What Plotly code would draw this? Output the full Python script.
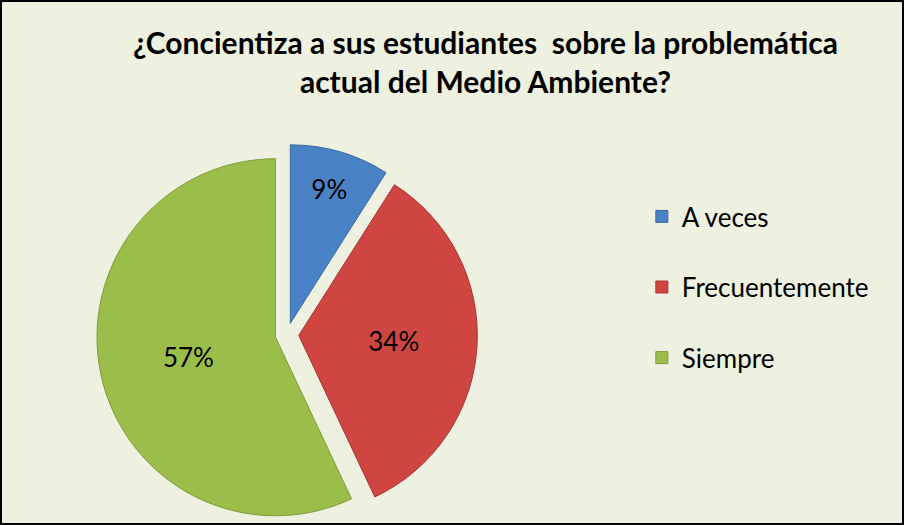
import plotly.graph_objects as go

TITLE = "¿Concientiza a sus estudiantes  sobre la problemática<br>actual del Medio Ambiente?"
LABELS = ["A veces", "Frecuentemente", "Siempre"]
VALUES = [9, 34, 57]
COLORS = ["#4A82C6", "#CF4542", "#9BBE4B"]
EDGES = ["#3A69A5", "#A63533", "#7E9C3A"]
BG = "#EEF0E0"

# second blank line in each label widens the legend row spacing
legend_labels = [f"{lab}<br> " for lab in LABELS]

fig = go.Figure(
    go.Pie(
        labels=legend_labels,
        values=VALUES,
        sort=False,
        direction="clockwise",
        rotation=0,
        pull=0.066,
        marker=dict(colors=COLORS, line=dict(color=EDGES, width=1)),
        texttemplate="%{percent:.0%}",
        textposition="inside",
        insidetextorientation="horizontal",
        textfont=dict(family="Lato", size=26, color="#000000"),
        hovertemplate="%{label}: %{percent}<extra></extra>",
        domain=dict(x=[0.104, 0.531], y=[0.0, 0.725]),
    )
)

fig.update_layout(
    width=904,
    height=525,
    paper_bgcolor=BG,
    plot_bgcolor=BG,
    margin=dict(l=0, r=0, t=0, b=0),
    title=dict(
        text=TITLE,
        x=0.537,
        xanchor="center",
        y=1 - 54 / 525,
        yanchor="middle",
        font=dict(family="Lato", size=30, color="#000000", weight="bold"),
    ),
    legend=dict(
        x=0.710,
        xanchor="left",
        y=1 - 193 / 525,
        yanchor="top",
        valign="top",
        font=dict(family="Lato", size=26, color="#000000"),
        bgcolor="rgba(0,0,0,0)",
    ),
    shapes=[
        dict(
            type="rect",
            xref="paper",
            yref="paper",
            x0=1 / 904,
            x1=1 - 1 / 904,
            y0=1 / 525,
            y1=1 - 1 / 525,
            line=dict(color="#000000", width=2),
            layer="above",
        )
    ],
)

# drop the browser's default body margin so the figure fills the window
fig.write_html(
    "out.html",
    config={"displayModeBar": False},
    post_script="document.body.style.margin='0';",
)
